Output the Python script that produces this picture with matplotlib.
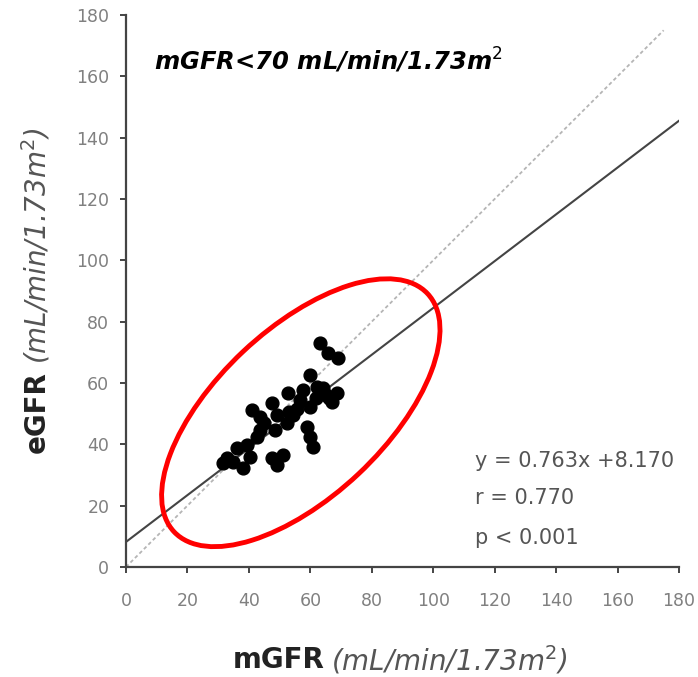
import matplotlib
matplotlib.use("Agg")
from matplotlib import pyplot as plt
from matplotlib.patches import Ellipse
import numpy as np

mgfr = [63.2, 65.9, 69.1, 59.9, 62.1, 68.6, 67.0, 52.8, 56.6, 59.9,
        47.4, 40.9, 43.6, 49.0, 54.5, 48.5, 52.3, 58.8, 59.9, 61.0,
        42.5, 43.6, 36.0, 39.3, 40.4, 31.7, 34.9, 38.2, 47.4, 51.2,
        49.0, 64.2, 65.0, 57.7, 55.5, 45.0, 53.0, 62.0, 66.0, 33.0]
egfr = [72.9, 69.7, 68.0, 62.6, 58.8, 56.6, 53.9, 56.6, 54.4, 52.3,
        53.4, 51.2, 49.0, 49.6, 49.6, 44.7, 46.9, 45.8, 42.5, 39.2,
        42.5, 44.7, 38.7, 39.8, 36.0, 33.8, 34.3, 32.2, 35.4, 36.5,
        33.3, 58.3, 56.0, 57.7, 51.5, 47.0, 50.5, 55.0, 55.0, 35.5]

slope = 0.763
intercept = 8.170
r_txt = "r = 0.770"
p_txt = "p < 0.001"
ticks = list(range(0, 181, 20))

fig = plt.figure(figsize=(6.98, 6.77), dpi=100)
ax = fig.add_axes([0.1805, 0.1625, 0.7923, 0.8154])
ax.set_xlim(0, 180)
ax.set_ylim(0, 180)

for s in ["top", "right"]:
    ax.spines[s].set_visible(False)
for s in ["left", "bottom"]:
    ax.spines[s].set_color("#444444")
    ax.spines[s].set_linewidth(1.6)

ax.set_xticks(ticks)
ax.set_yticks(ticks)
ax.tick_params(axis="both", direction="out", length=4, width=1.4,
               color="#444444", labelcolor="#808080", labelsize=12.5)
ax.tick_params(axis="x", pad=14)
ax.tick_params(axis="y", pad=8)

# identity line
ax.plot([0, 175], [0, 175], color="#b5b5b5", lw=1.3, ls=(0, (2, 1.5)))
# regression line
xs = np.array([0, 180])
ax.plot(xs, slope * xs + intercept, color="#444444", lw=1.5)

ax.scatter(mgfr, egfr, s=85, color="black", zorder=3)

ax.add_patch(Ellipse((56.9, 50.3), 113.3, 54.8, angle=43.3, fill=False,
                     edgecolor="red", lw=3.5, zorder=4))

ax.text(9, 165, "mGFR<70 mL/min/1.73m$^2$", fontsize=17.5,
        fontweight="bold", fontstyle="italic", va="center")

ann = dict(fontsize=15, color="#555555", va="center")
ax.text(113.5, 34.5, "y = %.3fx +%.3f" % (slope, intercept), **ann)
ax.text(113.5, 22.5, r_txt, **ann)
ax.text(113.5, 9.5, p_txt, **ann)

fig.text(0.333, 0.025, "mGFR", fontsize=20, fontweight="bold", ha="left",
         va="center", color="#222222")
fig.text(0.474, 0.025, "(mL/min/1.73m$^2$)", fontsize=20, fontstyle="italic",
         ha="left", va="center", color="#555555")

fig.text(0.052, 0.331, "eGFR", fontsize=20, fontweight="bold", rotation=90,
         ha="center", va="bottom", color="#222222")
fig.text(0.052, 0.462, "(mL/min/1.73m$^2$)", fontsize=20, fontstyle="italic",
         rotation=90, ha="center", va="bottom", color="#555555")

plt.savefig("out.png")
